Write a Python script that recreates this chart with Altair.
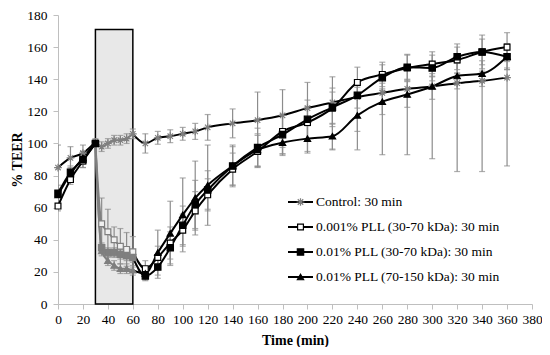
import altair as alt
import pandas as pd

# ---------------- data ----------------
time_min = [0, 10, 20, 30, 35, 40, 45, 50, 55, 60, 70, 80, 90, 100, 110, 120,
            140, 160, 180, 200, 220, 240, 260, 280, 300, 320, 340, 360]

series_names = [
    "Control: 30 min",
    "0.001% PLL (30-70 kDa): 30 min",
    "0.01% PLL (30-70 kDa): 30 min",
    "0.01% PLL (70-150 kDa): 30 min",
]

control = [85, 91, 94, 101, 98, 100, 102, 102, 103, 106, 100, 103.5, 104.5, 106, 107.5, 110,
           112.5, 114.5, 117.5, 122, 125.5, 129, 131.5, 134, 135.5, 137.5, 139, 141]
control_err_up = [14, 7, 5, 2, 3, 3, 3, 3, 3, 3, 6, 4, 4, 4, 5, 8,
                  9, 17.5, 16, 16, 16, 6, 6, 6, 6, 6, 6, 6]
control_err_dn = [14, 7, 5, 2, 3, 3, 3, 3, 3, 3, 6, 4, 4, 4, 5, 8,
                  9, 29, 24, 28, 29.5, 33, 38.5, 41, 45, 55, 56.5, 55]

pll001_3070 = [61, 77.5, 89, 100, 50, 45, 40, 36, 34, 32.5, 22, 29, 38, 46, 58, 68,
               84, 95, 107.5, 113, 122, 138, 143, 147, 149.5, 152, 157, 160]
pll001_3070_err = [3, 3, 4, 1, 16, 14, 8, 11, 10.5, 9.5, 5, 7, 10, 10, 12, 10,
                   10, 10, 10, 10, 10, 9.5, 7.6, 8, 7.6, 8, 10.5, 9]

pll01_3070 = [69, 82, 90, 100, 35, 32, 32, 31, 30, 29, 17.5, 23, 35, 49, 62, 71,
              86, 97.5, 105.5, 115, 122.5, 130, 141, 147.5, 147, 154, 157, 154]
pll01_3070_err = [5, 4, 5, 1, 3, 3, 3, 3, 3, 3, 3, 7, 10, 12, 15, 12,
                  12, 12, 12, 12, 12, 8, 8, 8, 8, 8, 8, 8]

pll01_70150 = [68, 81, 91, 100, 33, 27, 24, 22, 22, 21, 19, 32, 44, 55.5, 66, 74,
               86, 96, 100.5, 103, 104.5, 117.5, 126, 130.5, 135.5, 142, 143.5, 154]
pll01_70150_err = [4, 4, 4, 1, 3, 3, 3, 3, 3, 3, 4, 14, 20, 23, 23, 25,
                   13, 10, 8, 8, 8, 10, 8, 8, 8, 8, 8, 8]

# treatment window (shaded box)
box_start = [30]
box_end = [60]
box_top = [171]

x_ticks = list(range(0, 381, 20))
y_ticks = list(range(0, 181, 20))

# ---------------- styling ----------------
FONT = "Liberation Serif"
GRAY = "#7f7f7f"
ERR_GRAY = "#8c8c8c"
ASTERISK = "M-1,0L1,0M0,-1L0,1M-0.7,-0.7L0.7,0.7M-0.7,0.7L0.7,-0.7"

styles = [
    dict(shape=ASTERISK, fill="transparent", stroke=GRAY, size=60, box_fill="transparent"),
    dict(shape="square", fill="white", stroke="black", size=34, box_fill="#f0f0f0"),
    dict(shape="square", fill="black", stroke="black", size=40, box_fill=GRAY),
    dict(shape="triangle-up", fill="black", stroke="black", size=40, box_fill=GRAY),
]

x_scale = alt.Scale(domain=[0, 380], nice=False, zero=False)
y_scale = alt.Scale(domain=[0, 180], nice=False, zero=False)
x_axis = alt.Axis(values=x_ticks, title="Time (min)", tickSize=5, labelPadding=3,
                  titlePadding=8, labelFlush=False, labelOverlap=False)
y_axis = alt.Axis(values=y_ticks, title="% TEER", tickSize=5, labelPadding=6,
                  titlePadding=2)


def X(field):
    return alt.X(field, type="quantitative", scale=x_scale, axis=x_axis)


def Y(field):
    return alt.Y(field, type="quantitative", scale=y_scale, axis=y_axis)


# ---------------- layers ----------------
box_df = pd.DataFrame({"start": box_start, "end": box_end, "bottom": [0], "top": box_top})
box = alt.Chart(box_df).mark_rect(fill="#e8e8e8", stroke="black", strokeWidth=1.5).encode(
    x=X("start"), x2="end", y=Y("bottom"), y2="top"
)

values = [control, pll001_3070, pll01_3070, pll01_70150]
err_up = [control_err_up, pll001_3070_err, pll01_3070_err, pll01_70150_err]
err_dn = [control_err_dn, pll001_3070_err, pll01_3070_err, pll01_70150_err]

err_layers, line_layers, point_layers, legend_layers = [], [], [], []
legend_y = [187, 212, 237, 262]

for i, name in enumerate(series_names):
    st = styles[i]
    df = pd.DataFrame({
        "t": time_min,
        "v": values[i],
        "lo": [v - d for v, d in zip(values[i], err_dn[i])],
        "hi": [v + u for v, u in zip(values[i], err_up[i])],
    })
    base = alt.Chart(df)
    err_layers.append(base.mark_rule(color=ERR_GRAY, strokeWidth=1.2, clip=True).encode(
        x=X("t"), y=Y("lo"), y2="hi"))
    err_layers.append(base.mark_tick(color=ERR_GRAY, orient="horizontal", size=6,
                                     thickness=1.2, clip=True).encode(x=X("t"), y=Y("lo")))
    err_layers.append(base.mark_tick(color=ERR_GRAY, orient="horizontal", size=6,
                                     thickness=1.2, clip=True).encode(x=X("t"), y=Y("hi")))

    line_layers.append(base.transform_filter(alt.datum.t <= 30).mark_line(
        color="black", strokeWidth=2, interpolate="monotone").encode(x=X("t"), y=Y("v")))
    line_layers.append(base.transform_filter((alt.datum.t >= 30) & (alt.datum.t <= 60)).mark_line(
        color=GRAY, strokeWidth=2, interpolate="monotone").encode(x=X("t"), y=Y("v")))
    line_layers.append(base.transform_filter(alt.datum.t >= 60).mark_line(
        color="black", strokeWidth=2, interpolate="monotone").encode(x=X("t"), y=Y("v")))

    point_layers.append(base.transform_filter((alt.datum.t <= 30) | (alt.datum.t >= 70)).mark_point(
        shape=st["shape"], fill=st["fill"], stroke=st["stroke"], filled=False, fillOpacity=1,
        size=st["size"], strokeWidth=1.2, opacity=1).encode(x=X("t"), y=Y("v")))
    point_layers.append(base.transform_filter((alt.datum.t >= 35) & (alt.datum.t <= 60)).mark_point(
        shape=st["shape"], fill=st["box_fill"], stroke=GRAY, filled=False, fillOpacity=1,
        size=st["size"], strokeWidth=1.2, opacity=1).encode(x=X("t"), y=Y("v")))

    ldf = pd.DataFrame({"label": [name]})
    lb = alt.Chart(ldf)
    ly = legend_y[i]
    legend_layers.append(lb.mark_rule(color="black", strokeWidth=2).encode(
        x=alt.value(230), x2=alt.value(255), y=alt.value(ly)))
    legend_layers.append(lb.mark_point(
        shape=st["shape"], fill=st["fill"], stroke=st["stroke"], filled=False, fillOpacity=1,
        size=st["size"], strokeWidth=1.2, opacity=1).encode(x=alt.value(242.5), y=alt.value(ly)))
    legend_layers.append(lb.mark_text(align="left", baseline="middle", font=FONT,
                                      fontSize=13.5, color="black").encode(
        x=alt.value(258), y=alt.value(ly), text="label:N"))

chart = alt.layer(box, *err_layers, *line_layers, *point_layers, *legend_layers).properties(
    width=474, height=289,
    autosize=alt.AutoSizeParams(type="none"),
    padding={"left": 50, "top": 7, "right": 10, "bottom": 43},
).configure_view(stroke=None).configure_axis(
    grid=False,
    domainColor="#bfbfbf",
    tickColor="#bfbfbf",
    labelFont=FONT, labelFontSize=13.5, labelColor="black",
    titleFont=FONT, titleFontSize=14, titleFontWeight="bold", titleColor="black",
)

chart.save("out.html", embed_options={"renderer": "svg", "actions": False})
